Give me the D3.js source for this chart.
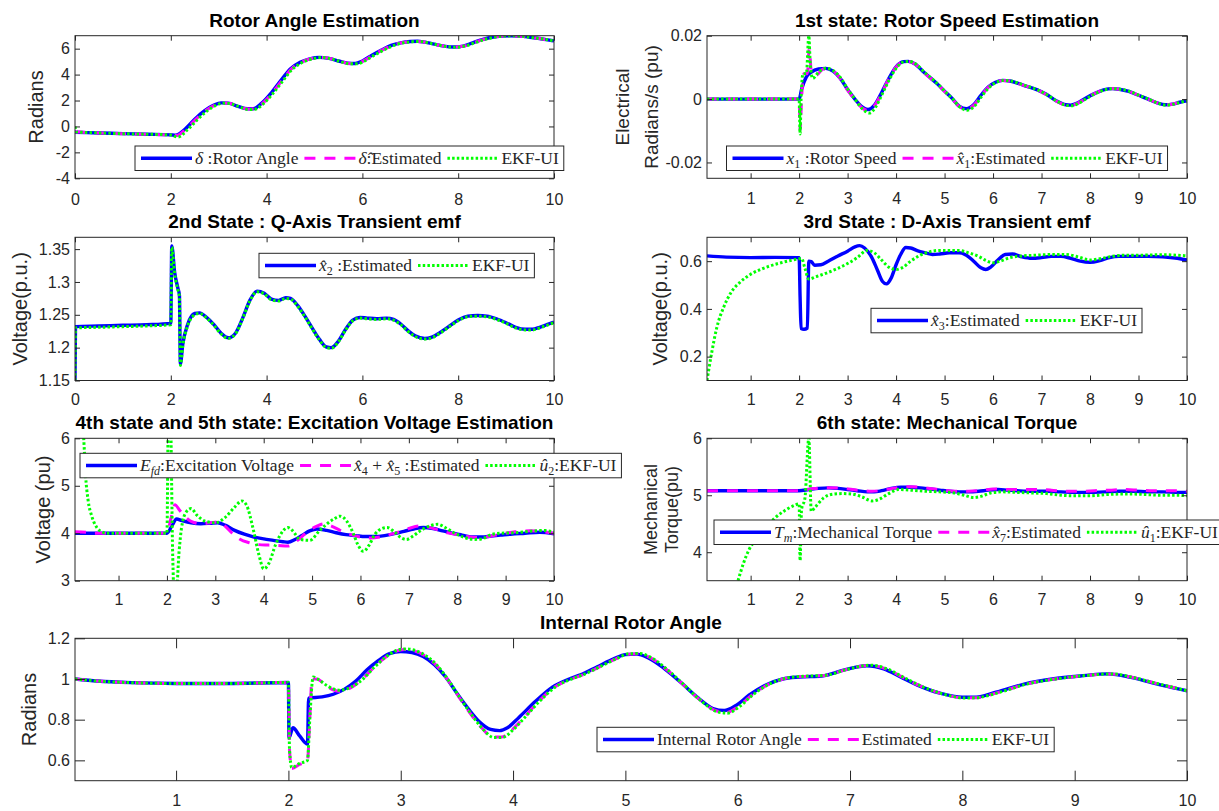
<!DOCTYPE html>
<html>
<head>
<meta charset="utf-8">
<script src="https://cdn.jsdelivr.net/npm/d3@7"></script>
<style>
  html, body { margin: 0; padding: 0; background: #ffffff; }
  svg { display: block; }
</style>
</head>
<body>
<svg id="fig" width="1219" height="811"></svg>
<script>
// ---------- tick values ----------
const ticksEven = [0, 2, 4, 6, 8, 10];
const ticksUnit = [1, 2, 3, 4, 5, 6, 7, 8, 9, 10];
const yTicksRotorAngle = [-4, -2, 0, 2, 4, 6];
const yTicksSpeed = [-0.02, 0, 0.02];
const yTicksEq = [1.15, 1.2, 1.25, 1.3, 1.35];
const yTicksEd = [0.2, 0.4, 0.6];
const yTicksEfd = [3, 4, 5, 6];
const yTicksTm = [4, 5, 6];
const yTicksInternal = [0.6, 0.8, 1, 1.2];

// ---------- rotor angle (rad), [t, value] ----------
const rotorAngle = [[0,-0.45],[0.5,-0.5],[1,-0.55],[1.5,-0.6],[2,-0.65],[2.1,-0.68],[2.3,-0.2],[2.5,0.55],[2.7,1.2],[2.9,1.65],[3.05,1.82],[3.2,1.8],[3.4,1.55],[3.6,1.36],[3.72,1.36],[3.9,1.8],[4.1,2.6],[4.3,3.55],[4.5,4.45],[4.7,4.95],[4.9,5.22],[5.1,5.33],[5.3,5.25],[5.5,5.05],[5.7,4.88],[5.85,4.86],[6.0,5.05],[6.2,5.5],[6.4,5.9],[6.6,6.25],[6.8,6.45],[7.0,6.55],[7.15,6.57],[7.3,6.5],[7.5,6.35],[7.7,6.2],[7.9,6.13],[8.1,6.2],[8.3,6.45],[8.5,6.7],[8.7,6.88],[8.9,6.98],[9.1,7.0],[9.3,6.97],[9.5,6.88],[9.7,6.78],[9.9,6.66],[10,6.6]];
const rotorAngleEst = [[0,-0.42],[0.5,-0.5],[1,-0.56],[1.5,-0.6],[2,-0.66],[2.12,-0.7],[2.32,-0.2],[2.52,0.55],[2.72,1.2],[2.92,1.65],[3.07,1.8],[3.22,1.78],[3.42,1.53],[3.62,1.34],[3.74,1.36],[3.92,1.8],[4.12,2.6],[4.32,3.55],[4.52,4.45],[4.72,4.95],[4.92,5.22],[5.12,5.32],[5.32,5.24],[5.52,5.03],[5.72,4.86],[5.87,4.85],[6.02,5.05],[6.22,5.5],[6.42,5.9],[6.62,6.25],[6.82,6.45],[7.02,6.55],[7.17,6.56],[7.32,6.49],[7.52,6.33],[7.72,6.18],[7.92,6.12],[8.12,6.2],[8.32,6.45],[8.52,6.7],[8.72,6.88],[8.92,6.98],[9.12,7.0],[9.32,6.96],[9.52,6.87],[9.72,6.77],[9.92,6.65],[10,6.6]];
const rotorAngleEkf = [[0,0],[0.03,-0.42],[0.5,-0.5],[1,-0.56],[1.5,-0.6],[2,-0.66],[2.15,-0.82],[2.35,-0.25],[2.55,0.5],[2.74,1.15],[2.94,1.62],[3.09,1.8],[3.24,1.76],[3.44,1.5],[3.64,1.3],[3.76,1.33],[3.94,1.78],[4.14,2.58],[4.34,3.52],[4.54,4.42],[4.74,4.93],[4.94,5.2],[5.14,5.32],[5.34,5.22],[5.54,5.0],[5.74,4.83],[5.89,4.83],[6.04,5.03],[6.24,5.48],[6.44,5.88],[6.64,6.23],[6.84,6.44],[7.04,6.54],[7.19,6.55],[7.34,6.48],[7.54,6.32],[7.74,6.17],[7.94,6.11],[8.14,6.2],[8.34,6.44],[8.54,6.69],[8.74,6.87],[8.94,6.97],[9.14,6.99],[9.34,6.95],[9.54,6.86],[9.74,6.76],[9.94,6.64],[10,6.6]];

// ---------- rotor speed deviation (pu) ----------
const rotorSpeed = [[0.1,0],[1,0],[2,0],[2.05,0.003],[2.15,0.007],[2.25,0.0085],[2.4,0.0095],[2.55,0.0097],[2.7,0.0088],[2.85,0.0065],[3.0,0.003],[3.15,0.0],[3.3,-0.0025],[3.42,-0.0033],[3.55,-0.002],[3.7,0.002],[3.85,0.0065],[4.0,0.0102],[4.15,0.0118],[4.25,0.0119],[4.4,0.011],[4.55,0.0088],[4.7,0.0068],[4.85,0.0048],[5.0,0.0025],[5.15,0.0003],[5.3,-0.0022],[5.45,-0.003],[5.6,-0.0018],[5.75,0.0012],[5.9,0.0038],[6.05,0.0053],[6.2,0.0059],[6.35,0.0057],[6.5,0.005],[6.7,0.004],[6.9,0.003],[7.1,0.0015],[7.3,-0.0005],[7.5,-0.0018],[7.6,-0.0019],[7.75,-0.0012],[7.9,0.0002],[8.1,0.0018],[8.3,0.003],[8.45,0.0033],[8.6,0.0031],[8.8,0.0024],[9.0,0.0012],[9.2,0.0],[9.4,-0.0013],[9.55,-0.0018],[9.7,-0.0016],[9.85,-0.001],[10,-0.0005]];
const rotorSpeedEst = [[0.1,0],[1,0],[2,0],[2.02,-0.01],[2.05,0.0],[2.1,0.008],[2.17,0.008],[2.21,0.016],[2.25,0.009],[2.35,0.0075],[2.5,0.0095],[2.7,0.0088],[2.85,0.0064],[3.0,0.0028],[3.15,-0.0002],[3.3,-0.0028],[3.42,-0.0036],[3.55,-0.0022],[3.7,0.0018],[3.85,0.0064],[4.0,0.0101],[4.15,0.0118],[4.25,0.0119],[4.4,0.011],[4.55,0.0087],[4.7,0.0067],[4.85,0.0047],[5.0,0.0024],[5.15,0.0002],[5.3,-0.0023],[5.45,-0.0032],[5.6,-0.002],[5.75,0.001],[5.9,0.0037],[6.05,0.0053],[6.2,0.0059],[6.35,0.0057],[6.5,0.005],[6.7,0.004],[6.9,0.003],[7.1,0.0014],[7.3,-0.0006],[7.5,-0.0019],[7.6,-0.002],[7.75,-0.0013],[7.9,0.0001],[8.1,0.0018],[8.3,0.003],[8.45,0.0033],[8.6,0.0031],[8.8,0.0024],[9.0,0.0012],[9.2,0.0],[9.4,-0.0013],[9.55,-0.0018],[9.7,-0.0016],[9.85,-0.001],[10,-0.0005]];
const rotorSpeedEkf = [[0.1,0],[1,0],[2,0],[2.02,-0.011],[2.04,0.0],[2.08,0.008],[2.15,0.008],[2.2,0.02],[2.23,0.011],[2.28,0.0065],[2.4,0.0085],[2.55,0.0097],[2.7,0.009],[2.85,0.0068],[3.0,0.0032],[3.15,0.0],[3.3,-0.003],[3.45,-0.0044],[3.58,-0.0025],[3.72,0.0018],[3.87,0.0064],[4.02,0.0101],[4.17,0.0118],[4.27,0.0119],[4.42,0.0109],[4.57,0.0087],[4.72,0.0067],[4.87,0.0046],[5.02,0.0022],[5.17,0.0],[5.32,-0.0026],[5.47,-0.0035],[5.62,-0.0022],[5.77,0.001],[5.92,0.0037],[6.07,0.0053],[6.22,0.0059],[6.37,0.0057],[6.52,0.005],[6.72,0.004],[6.92,0.0029],[7.12,0.0013],[7.32,-0.0007],[7.52,-0.002],[7.62,-0.0021],[7.77,-0.0013],[7.92,0.0001],[8.12,0.0018],[8.32,0.003],[8.47,0.0033],[8.62,0.0031],[8.82,0.0024],[9.02,0.0011],[9.22,-0.0001],[9.42,-0.0014],[9.57,-0.0019],[9.72,-0.0016],[9.87,-0.001],[10,-0.0005]];

// ---------- q-axis transient emf (pu) ----------
const eqTransient = [[0,1.15],[0.01,1.232],[0.5,1.233],[1,1.234],[1.5,1.235],[2.0,1.237],[2.02,1.355],[2.08,1.315],[2.15,1.29],[2.18,1.28],[2.2,1.175],[2.25,1.205],[2.35,1.235],[2.5,1.252],[2.6,1.253],[2.75,1.246],[2.9,1.235],[3.05,1.222],[3.2,1.215],[3.35,1.222],[3.5,1.245],[3.65,1.272],[3.8,1.286],[3.95,1.283],[4.1,1.274],[4.25,1.272],[4.4,1.276],[4.5,1.275],[4.65,1.264],[4.8,1.248],[4.95,1.23],[5.1,1.213],[5.25,1.201],[5.35,1.2],[5.5,1.21],[5.65,1.228],[5.8,1.242],[5.95,1.246],[6.1,1.245],[6.3,1.244],[6.5,1.245],[6.65,1.243],[6.8,1.236],[6.95,1.226],[7.1,1.218],[7.3,1.214],[7.45,1.216],[7.6,1.222],[7.8,1.232],[8.0,1.242],[8.2,1.248],[8.4,1.249],[8.6,1.248],[8.8,1.244],[9.0,1.238],[9.2,1.231],[9.4,1.228],[9.55,1.228],[9.7,1.231],[9.85,1.235],[10,1.239]];
const eqTransientEkf = [[0,1.15],[0.01,1.23],[0.5,1.231],[1,1.232],[1.5,1.233],[2.0,1.235],[2.02,1.353],[2.08,1.313],[2.15,1.288],[2.18,1.278],[2.2,1.173],[2.25,1.203],[2.35,1.233],[2.5,1.25],[2.6,1.252],[2.75,1.245],[2.9,1.234],[3.05,1.221],[3.2,1.214],[3.35,1.221],[3.5,1.244],[3.65,1.271],[3.8,1.285],[3.95,1.282],[4.1,1.273],[4.25,1.271],[4.4,1.275],[4.5,1.274],[4.65,1.263],[4.8,1.247],[4.95,1.229],[5.1,1.212],[5.25,1.2],[5.35,1.199],[5.5,1.209],[5.65,1.227],[5.8,1.241],[5.95,1.245],[6.1,1.244],[6.3,1.243],[6.5,1.244],[6.65,1.242],[6.8,1.235],[6.95,1.225],[7.1,1.217],[7.3,1.213],[7.45,1.215],[7.6,1.221],[7.8,1.231],[8.0,1.241],[8.2,1.247],[8.4,1.248],[8.6,1.247],[8.8,1.243],[9.0,1.237],[9.2,1.23],[9.4,1.227],[9.55,1.227],[9.7,1.23],[9.85,1.234],[10,1.238]];

// ---------- d-axis transient emf (pu) ----------
const edTransient = [[0.1,0.622],[0.5,0.617],[1,0.615],[1.5,0.616],[2.0,0.615],[2.02,0.45],[2.04,0.318],[2.1,0.315],[2.17,0.32],[2.2,0.6],[2.25,0.598],[2.32,0.583],[2.45,0.585],[2.6,0.6],[2.8,0.622],[3.0,0.642],[3.15,0.66],[3.25,0.665],[3.35,0.655],[3.5,0.615],[3.62,0.56],[3.72,0.515],[3.8,0.505],[3.9,0.53],[4.0,0.585],[4.1,0.63],[4.2,0.657],[4.3,0.655],[4.45,0.643],[4.6,0.635],[4.75,0.628],[4.9,0.63],[5.1,0.635],[5.3,0.635],[5.45,0.625],[5.6,0.6],[5.75,0.572],[5.85,0.565],[5.95,0.575],[6.1,0.605],[6.25,0.628],[6.4,0.63],[6.6,0.618],[6.8,0.612],[7.0,0.615],[7.2,0.62],[7.4,0.62],[7.6,0.612],[7.8,0.6],[8.0,0.595],[8.2,0.602],[8.4,0.615],[8.6,0.62],[8.9,0.62],[9.2,0.62],[9.5,0.618],[9.8,0.612],[10,0.605]];
const edTransientEkf = [[0.1,0.1],[0.2,0.22],[0.3,0.32],[0.45,0.41],[0.6,0.47],[0.8,0.515],[1.0,0.545],[1.2,0.565],[1.4,0.58],[1.6,0.592],[1.8,0.602],[2.0,0.61],[2.05,0.612],[2.12,0.57],[2.2,0.525],[2.35,0.535],[2.6,0.553],[2.8,0.57],[3.0,0.59],[3.2,0.615],[3.4,0.645],[3.55,0.635],[3.7,0.605],[3.85,0.575],[4.0,0.565],[4.15,0.575],[4.3,0.6],[4.5,0.625],[4.7,0.64],[4.9,0.645],[5.1,0.645],[5.3,0.645],[5.5,0.635],[5.7,0.62],[5.85,0.603],[6.0,0.593],[6.15,0.6],[6.35,0.615],[6.6,0.622],[6.9,0.625],[7.2,0.628],[7.5,0.628],[7.75,0.618],[8.0,0.605],[8.2,0.61],[8.45,0.62],[8.7,0.625],[9.0,0.625],[9.5,0.627],[10,0.622]];

// ---------- excitation voltage (pu) ----------
const efd = [[0.1,4.0],[1,4.0],[2.0,4.0],[2.1,4.15],[2.2,4.3],[2.3,4.27],[2.5,4.22],[2.7,4.2],[2.9,4.21],[3.05,4.22],[3.2,4.17],[3.4,4.06],[3.6,3.98],[3.8,3.92],[4.0,3.88],[4.2,3.85],[4.4,3.82],[4.5,3.81],[4.65,3.87],[4.8,3.96],[4.95,4.05],[5.1,4.09],[5.3,4.06],[5.5,4.01],[5.7,3.97],[5.9,3.95],[6.1,3.93],[6.3,3.93],[6.5,3.95],[6.7,3.99],[6.9,4.04],[7.1,4.09],[7.3,4.12],[7.5,4.1],[7.7,4.05],[7.9,4.0],[8.1,3.96],[8.3,3.92],[8.5,3.92],[8.7,3.94],[8.9,3.96],[9.1,3.98],[9.4,4.0],[9.7,4.02],[10,3.99]];
const efdEst = [[0.1,4.03],[0.35,4.02],[0.5,4.0],[2.0,4.0],[2.08,4.3],[2.17,4.6],[2.25,4.5],[2.35,4.38],[2.5,4.25],[2.7,4.2],[2.9,4.22],[3.05,4.24],[3.2,4.15],[3.35,4.0],[3.5,3.88],[3.7,3.8],[3.9,3.76],[4.1,3.75],[4.3,3.74],[4.5,3.73],[4.7,3.85],[4.9,4.03],[5.1,4.15],[5.25,4.2],[5.4,4.15],[5.6,4.05],[5.8,3.97],[6.0,3.92],[6.2,3.9],[6.4,3.92],[6.6,3.97],[6.8,4.03],[7.0,4.1],[7.2,4.15],[7.4,4.13],[7.6,4.07],[7.8,4.01],[8.0,3.97],[8.2,3.93],[8.4,3.91],[8.6,3.92],[8.8,3.96],[9.0,4.0],[9.2,4.03],[9.5,4.05],[9.8,4.03],[10,4.0]];
const efdEkf = [[0.22,6.8],[0.28,6.0],[0.32,5.2],[0.37,4.7],[0.45,4.35],[0.55,4.12],[0.65,4.03],[0.75,4.0],[1.0,4.0],[2.0,4.0],[2.03,6.5],[2.07,6.5],[2.12,3.5],[2.15,2.7],[2.19,2.7],[2.25,3.6],[2.3,4.1],[2.4,4.45],[2.5,4.52],[2.62,4.38],[2.8,4.25],[3.0,4.22],[3.2,4.33],[3.4,4.55],[3.55,4.68],[3.65,4.58],[3.78,4.1],[3.9,3.55],[4.0,3.25],[4.1,3.35],[4.25,3.77],[4.4,4.05],[4.5,4.12],[4.6,4.05],[4.75,3.87],[4.95,3.85],[5.15,4.05],[5.3,4.19],[5.45,4.3],[5.58,4.36],[5.72,4.25],[5.85,4.0],[5.95,3.75],[6.06,3.62],[6.18,3.75],[6.3,3.98],[6.45,4.1],[6.55,4.12],[6.7,4.03],[6.85,3.9],[6.95,3.87],[7.1,3.95],[7.25,4.06],[7.45,4.16],[7.6,4.19],[7.75,4.12],[7.95,4.0],[8.15,3.91],[8.35,3.87],[8.5,3.88],[8.7,3.97],[8.9,4.0],[9.2,4.01],[9.5,4.04],[9.8,4.06],[10,4.02]];

// ---------- mechanical torque (pu) ----------
const torque = [[0.1,5.08],[1,5.08],[2.0,5.08],[2.2,5.1],[2.4,5.12],[2.6,5.13],[2.8,5.12],[3.0,5.1],[3.2,5.08],[3.4,5.06],[3.55,5.06],[3.7,5.08],[3.9,5.12],[4.1,5.14],[4.3,5.14],[4.5,5.13],[4.7,5.11],[4.9,5.09],[5.1,5.07],[5.3,5.06],[5.5,5.06],[5.7,5.07],[5.9,5.09],[6.1,5.1],[6.3,5.09],[6.5,5.08],[6.8,5.07],[7.1,5.07],[7.4,5.06],[7.7,5.05],[8.0,5.05],[8.3,5.06],[8.6,5.07],[8.9,5.07],[9.2,5.06],[9.5,5.06],[9.8,5.05],[10,5.05]];
const torqueEst = [[0.1,5.08],[1,5.08],[2.0,5.08],[2.3,5.12],[2.6,5.13],[2.9,5.12],[3.2,5.09],[3.5,5.07],[3.8,5.1],[4.1,5.14],[4.3,5.15],[4.6,5.13],[4.9,5.1],[5.2,5.07],[5.5,5.07],[5.8,5.09],[6.0,5.11],[6.3,5.1],[6.6,5.1],[6.9,5.1],[7.2,5.09],[7.5,5.07],[7.8,5.07],[8.1,5.08],[8.4,5.09],[8.7,5.1],[9.0,5.09],[9.3,5.08],[9.6,5.08],[10,5.07]];
const torqueEkf = [[0.74,3.5],[0.85,3.8],[0.97,4.05],[1.1,4.22],[1.3,4.42],[1.5,4.6],[1.7,4.73],[1.9,4.82],[2.0,4.85],[2.02,3.85],[2.05,4.75],[2.12,4.95],[2.2,6.0],[2.25,4.72],[2.32,4.78],[2.5,4.95],[2.7,5.02],[2.9,5.03],[3.1,5.02],[3.3,4.97],[3.5,4.9],[3.65,4.93],[3.85,5.03],[4.05,5.1],[4.3,5.09],[4.6,5.07],[4.9,5.06],[5.2,5.04],[5.4,5.0],[5.6,4.96],[5.75,4.98],[5.95,5.04],[6.2,5.06],[6.5,5.05],[6.8,5.04],[7.1,5.03],[7.4,5.0],[7.7,4.99],[8.0,4.99],[8.3,5.01],[8.6,5.02],[8.9,5.02],[9.2,5.01],[9.5,5.0],[9.8,5.0],[10,4.99]];

// ---------- internal rotor angle (rad) ----------
const internalAngle = [[0.1,1.0],[0.3,0.99],[0.6,0.982],[1.0,0.978],[1.5,0.978],[2.0,0.983],[2.005,0.71],[2.04,0.76],[2.1,0.72],[2.17,0.68],[2.18,0.906],[2.3,0.912],[2.4,0.925],[2.5,0.95],[2.6,0.99],[2.7,1.045],[2.8,1.09],[2.9,1.125],[3.0,1.135],[3.1,1.13],[3.2,1.11],[3.3,1.07],[3.4,1.01],[3.5,0.93],[3.6,0.855],[3.7,0.79],[3.8,0.752],[3.88,0.746],[3.95,0.76],[4.05,0.81],[4.2,0.89],[4.35,0.96],[4.5,1.0],[4.6,1.02],[4.75,1.06],[4.9,1.1],[5.0,1.12],[5.1,1.122],[5.2,1.105],[5.35,1.05],[5.5,0.98],[5.65,0.906],[5.78,0.855],[5.88,0.845],[5.98,0.868],[6.1,0.92],[6.25,0.97],[6.4,1.0],[6.55,1.01],[6.75,1.015],[6.95,1.045],[7.15,1.065],[7.3,1.05],[7.45,1.01],[7.6,0.97],[7.8,0.93],[8.0,0.91],[8.1,0.91],[8.3,0.935],[8.55,0.975],[8.8,1.0],[9.05,1.015],[9.3,1.025],[9.5,1.008],[9.7,0.98],[9.85,0.96],[10,0.942]];
const internalAngleEst = [[0.1,1.0],[0.3,0.99],[0.6,0.982],[1.0,0.978],[1.5,0.978],[2.0,0.983],[2.01,0.65],[2.03,0.56],[2.1,0.58],[2.17,0.6],[2.19,0.8],[2.21,1.0],[2.25,1.0],[2.35,0.96],[2.45,0.94],[2.55,0.955],[2.65,0.995],[2.75,1.05],[2.85,1.1],[2.95,1.135],[3.03,1.145],[3.12,1.138],[3.22,1.112],[3.32,1.065],[3.42,0.995],[3.52,0.91],[3.62,0.83],[3.72,0.76],[3.82,0.715],[3.9,0.715],[3.98,0.745],[4.08,0.8],[4.22,0.885],[4.37,0.96],[4.52,1.0],[4.62,1.02],[4.77,1.06],[4.92,1.1],[5.02,1.122],[5.12,1.124],[5.22,1.105],[5.37,1.045],[5.52,0.97],[5.67,0.895],[5.8,0.845],[5.9,0.835],[6.0,0.862],[6.12,0.918],[6.27,0.972],[6.42,1.002],[6.57,1.012],[6.77,1.017],[6.97,1.047],[7.17,1.067],[7.32,1.05],[7.47,1.008],[7.62,0.967],[7.82,0.927],[8.02,0.907],[8.12,0.908],[8.32,0.934],[8.57,0.975],[8.82,1.0],[9.07,1.015],[9.32,1.025],[9.52,1.007],[9.72,0.979],[9.87,0.959],[10,0.942]];
const internalAngleEkf = [[0.1,1.0],[0.3,0.99],[0.6,0.982],[1.0,0.978],[1.5,0.978],[2.0,0.983],[2.01,0.65],[2.03,0.565],[2.1,0.585],[2.17,0.6],[2.19,0.8],[2.22,1.01],[2.26,1.0],[2.35,0.965],[2.45,0.945],[2.55,0.958],[2.66,0.998],[2.76,1.055],[2.86,1.105],[2.96,1.14],[3.04,1.148],[3.13,1.14],[3.23,1.112],[3.33,1.063],[3.43,0.99],[3.53,0.905],[3.63,0.825],[3.73,0.755],[3.83,0.712],[3.91,0.713],[3.99,0.745],[4.09,0.802],[4.23,0.887],[4.38,0.962],[4.53,1.002],[4.63,1.022],[4.78,1.062],[4.93,1.102],[5.03,1.124],[5.13,1.125],[5.23,1.105],[5.38,1.043],[5.53,0.967],[5.68,0.89],[5.81,0.84],[5.91,0.832],[6.01,0.862],[6.13,0.92],[6.28,0.975],[6.43,1.004],[6.58,1.013],[6.78,1.018],[6.98,1.048],[7.18,1.068],[7.33,1.05],[7.48,1.007],[7.63,0.966],[7.83,0.926],[8.03,0.906],[8.13,0.908],[8.33,0.934],[8.58,0.976],[8.83,1.0],[9.08,1.016],[9.33,1.025],[9.53,1.006],[9.73,0.978],[9.88,0.958],[10,0.942]];

// ---------- line styles per role ----------
const lineStyles = {
  truth: { color: '#0000ff', width: 3.4, dash: null },
  est:   { color: '#ff00ff', width: 3,   dash: '11,9' },
  ekf:   { color: '#00ff00', width: 3,   dash: '2.5,2.2' }
};

// ---------- figure layout ----------
const leftCol = [75, 554], rightCol = [707, 1187], fullRow = [75, 1187];
const rows = [[35.7, 178.3], [237.3, 380.5], [438.3, 580.7], [638.3, 780.7]];
const fmt = d => String(d);

const panels = [
  { title: 'Rotor Angle Estimation', cols: leftCol, row: rows[0],
    xDomain: [0, 10], xTicks: ticksEven, yDomain: [-4, 7], yTicks: yTicksRotorAngle,
    ylabel: [['Radians', 36]], ylabelSize: 20, tickLen: 5, tickPad: 15,
    series: [[rotorAngle, 'truth'], [rotorAngleEst, 'est'], [rotorAngleEkf, 'ekf']],
    legend: { x: 135, y: 146, items: [
      ['truth', [{ t: '\u03B4', it: 1 }, { t: ' :Rotor Angle' }]],
      ['est', [{ t: '\u03B4\u0302', it: 1 }, { t: ':Estimated' }]],
      ['ekf', [{ t: 'EKF-UI' }]] ] } },
  { title: '1st state: Rotor Speed Estimation', cols: rightCol, row: rows[0],
    xDomain: [0.1, 10], xTicks: ticksUnit, yDomain: [-0.025, 0.02], yTicks: yTicksSpeed,
    ylabel: [['Electrical', 622], ['Radians/s (pu)', 651]], ylabelSize: 19, tickLen: 5, tickPad: 14,
    series: [[rotorSpeed, 'truth'], [rotorSpeedEst, 'est'], [rotorSpeedEkf, 'ekf']],
    legend: { x: 726.5, y: 146, items: [
      ['truth', [{ t: 'x', it: 1 }, { t: '1', sub: 1 }, { t: ' :Rotor Speed' }]],
      ['est', [{ t: 'x\u0302', it: 1 }, { t: '1', sub: 1 }, { t: ':Estimated' }]],
      ['ekf', [{ t: 'EKF-UI' }]] ] } },
  { title: '2nd State : Q-Axis Transient emf', cols: leftCol, row: rows[1],
    xDomain: [0, 10], xTicks: ticksEven, yDomain: [1.15, 1.368], yTicks: yTicksEq,
    ylabel: [['Voltage(p.u.)', 20]], ylabelSize: 20, tickLen: 5, tickPad: 13,
    series: [[eqTransient, 'truth'], [eqTransientEkf, 'ekf']],
    legend: { x: 259, y: 253.3, items: [
      ['truth', [{ t: 'x\u0302', it: 1 }, { t: '2', sub: 1 }, { t: ' :Estimated' }]],
      ['ekf', [{ t: 'EKF-UI' }]] ] } },
  { title: '3rd State : D-Axis Transient emf', cols: rightCol, row: rows[1],
    xDomain: [0.1, 10], xTicks: ticksUnit, yDomain: [0.1, 0.7], yTicks: yTicksEd,
    ylabel: [['Voltage(p.u.)', 660]], ylabelSize: 20, tickLen: 5, tickPad: 13,
    series: [[edTransient, 'truth'], [edTransientEkf, 'ekf']],
    legend: { x: 871, y: 308.3, items: [
      ['truth', [{ t: 'x\u0302', it: 1 }, { t: '3', sub: 1 }, { t: ':Estimated' }]],
      ['ekf', [{ t: 'EKF-UI' }]] ] } },
  { title: '4th state and 5th state: Excitation Voltage Estimation', cols: leftCol, row: rows[2],
    xDomain: [0.1, 10], xTicks: ticksUnit, yDomain: [3, 6], yTicks: yTicksEfd,
    ylabel: [['Voltage (pu)', 43]], ylabelSize: 20, tickLen: 5, tickPad: 13,
    series: [[efd, 'truth'], [efdEst, 'est'], [efdEkf, 'ekf']],
    legend: { x: 80, y: 453.3, items: [
      ['truth', [{ t: 'E', it: 1 }, { t: 'fd', sub: 1, it: 1 }, { t: ':Excitation Voltage' }]],
      ['est', [{ t: 'x\u0302', it: 1 }, { t: '4', sub: 1 }, { t: ' + ' }, { t: 'x\u0302', it: 1 }, { t: '5', sub: 1 }, { t: ' :Estimated' }]],
      ['ekf', [{ t: 'u\u0302', it: 1 }, { t: '2', sub: 1 }, { t: ':EKF-UI' }]] ] } },
  { title: '6th state: Mechanical Torque', cols: rightCol, row: rows[2],
    xDomain: [0.1, 10], xTicks: ticksUnit, yDomain: [3.5, 6], yTicks: yTicksTm,
    ylabel: [['Mechanical', 651], ['Torque(pu)', 672]], ylabelSize: 18, tickLen: 5, tickPad: 13,
    series: [[torque, 'truth'], [torqueEst, 'est'], [torqueEkf, 'ekf']],
    legend: { x: 714, y: 520, items: [
      ['truth', [{ t: 'T', it: 1 }, { t: 'm', sub: 1, it: 1 }, { t: ':Mechanical Torque' }]],
      ['est', [{ t: 'x\u0302', it: 1 }, { t: '7', sub: 1 }, { t: ':Estimated' }]],
      ['ekf', [{ t: 'u\u0302', it: 1 }, { t: '1', sub: 1 }, { t: ':EKF-UI' }]] ] } },
  { title: 'Internal Rotor Angle', cols: fullRow, row: rows[3],
    xDomain: [0.1, 10], xTicks: ticksUnit, yDomain: [0.5, 1.2], yTicks: yTicksInternal,
    ylabel: [['Radians', 29]], ylabelSize: 20, tickLen: 10, tickPad: 14,
    series: [[internalAngle, 'truth'], [internalAngleEst, 'est'], [internalAngleEkf, 'ekf']],
    legend: { x: 597, y: 727.3, items: [
      ['truth', [{ t: 'Internal Rotor Angle' }]],
      ['est', [{ t: 'Estimated' }]],
      ['ekf', [{ t: 'EKF-UI' }]] ] } }
];

const svg = d3.select('#fig');
const AXIS = '#262626';
const SANS = '"Liberation Sans", Arial, Helvetica, sans-serif';
const SERIF = '"Liberation Serif", "DejaVu Serif", "Times New Roman", serif';
const defs = svg.append('defs');

function styleLine(sel, role) {
  const s = lineStyles[role];
  sel.attr('fill', 'none')
     .attr('stroke', s.color)
     .attr('stroke-width', s.width)
     .attr('stroke-linejoin', 'round')
     .attr('stroke-linecap', 'butt');
  if (s.dash) sel.attr('stroke-dasharray', s.dash);
}

function styleAxis(g) {
  g.select('.domain').remove();
  g.selectAll('.tick line').attr('stroke', AXIS).attr('stroke-width', 1);
  g.selectAll('.tick text').attr('fill', AXIS)
    .style('font-family', SANS).style('font-size', '16px');
}

panels.forEach((p, i) => {
  const [x0, x1] = p.cols, [y0, y1] = p.row;
  const x = d3.scaleLinear().domain(p.xDomain).range([x0, x1]);
  const y = d3.scaleLinear().domain(p.yDomain).range([y1, y0]);
  const g = svg.append('g');

  // plot area clip
  const clipId = 'clip' + i;
  defs.append('clipPath').attr('id', clipId)
    .append('rect').attr('x', x0).attr('y', y0).attr('width', x1 - x0).attr('height', y1 - y0);

  // data lines (truth, estimate, EKF drawn in that order)
  const line = d3.line().x(d => x(d[0])).y(d => y(d[1])).curve(d3.curveMonotoneX);
  const plot = g.append('g').attr('clip-path', `url(#${clipId})`);
  p.series.forEach(([data, role]) => {
    plot.append('path').datum(data).attr('d', line).call(styleLine, role);
  });

  // axes with inward ticks, mirrored on the top and right sides
  const L = p.tickLen;
  g.append('g').attr('transform', `translate(0,${y1})`)
    .call(d3.axisBottom(x).tickValues(p.xTicks).tickFormat(fmt).tickSizeInner(-L).tickSizeOuter(0).tickPadding(p.tickPad))
    .call(styleAxis);
  g.append('g').attr('transform', `translate(0,${y0})`)
    .call(d3.axisTop(x).tickValues(p.xTicks).tickFormat('').tickSizeInner(-L).tickSizeOuter(0))
    .call(styleAxis);
  g.append('g').attr('transform', `translate(${x0},0)`)
    .call(d3.axisLeft(y).tickValues(p.yTicks).tickFormat(fmt).tickSizeInner(-L).tickSizeOuter(0).tickPadding(5))
    .call(styleAxis);
  g.append('g').attr('transform', `translate(${x1},0)`)
    .call(d3.axisRight(y).tickValues(p.yTicks).tickFormat('').tickSizeInner(-L).tickSizeOuter(0))
    .call(styleAxis);

  // axes box
  g.append('rect').attr('x', x0).attr('y', y0).attr('width', x1 - x0).attr('height', y1 - y0)
    .attr('fill', 'none').attr('stroke', AXIS).attr('stroke-width', 1);

  // title
  g.append('text').attr('x', (x0 + x1) / 2).attr('y', y0 - 9)
    .attr('text-anchor', 'middle')
    .style('font-family', SANS).style('font-size', '19px').style('font-weight', 'bold')
    .attr('fill', '#000').text(p.title);

  // y label(s)
  const cy = (y0 + y1) / 2;
  p.ylabel.forEach(([txt, lx]) => {
    g.append('text').attr('transform', `translate(${lx},${cy}) rotate(-90)`)
      .attr('text-anchor', 'middle').attr('dy', '0.35em')
      .style('font-family', SANS).style('font-size', p.ylabelSize + 'px')
      .attr('fill', AXIS).text(txt);
  });

  // legend
  const lg = svg.append('g');
  const boxH = 24.5, lineLen = 51, padL = 6, padR = 5, gapLT = 3, gapItem = 6;
  const midY = p.legend.y + boxH / 2;
  const boxRect = lg.append('rect').attr('x', p.legend.x).attr('y', p.legend.y)
    .attr('height', boxH).attr('fill', '#fff').attr('stroke', AXIS).attr('stroke-width', 1);
  let cx = p.legend.x + padL;
  p.legend.items.forEach(([role, segs], k) => {
    lg.append('line').attr('x1', cx).attr('x2', cx + lineLen).attr('y1', midY).attr('y2', midY)
      .call(styleLine, role);
    cx += lineLen + gapLT;
    const t = lg.append('text').attr('x', cx).attr('y', midY + 5.5)
      .style('font-family', SERIF).style('font-size', '17.5px').attr('fill', '#262626');
    let shifted = false;
    segs.forEach(s => {
      const ts = t.append('tspan').text(s.t);
      if (s.it) ts.style('font-style', 'italic');
      if (s.sub) {
        ts.style('font-size', '12px').attr('dy', 4);
        shifted = true;
      } else if (shifted) {
        ts.attr('dy', -4);
        shifted = false;
      }
    });
    cx += t.node().getComputedTextLength();
    if (k < p.legend.items.length - 1) cx += gapItem;
  });
  boxRect.attr('width', cx + padR - p.legend.x);
});
</script>
</body>
</html>
